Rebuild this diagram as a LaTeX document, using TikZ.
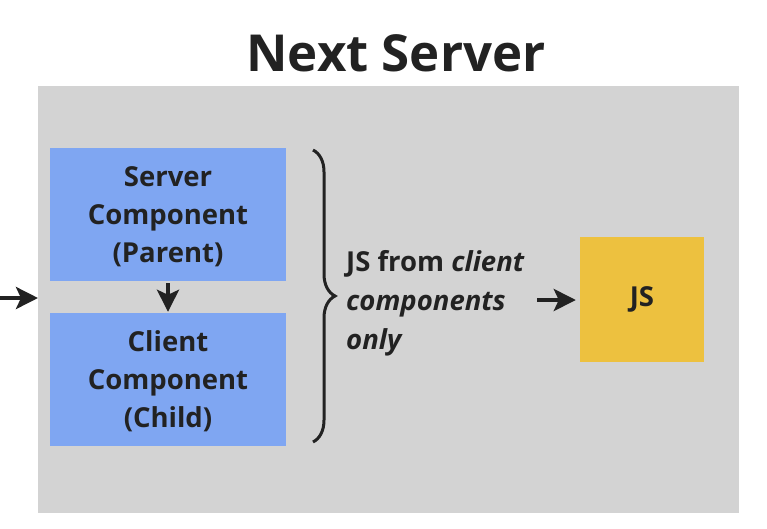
\documentclass[tikz,border=0pt]{standalone}
\usepackage{fontspec}
\setmainfont{Open Sans}
\usepackage{tikz}
\usetikzlibrary{arrows.meta, positioning, decorations.pathreplacing}
\definecolor{bggray}{RGB}{211, 211, 211}
\definecolor{compblue}{RGB}{127, 166, 242}
\definecolor{jsyellow}{RGB}{237, 193, 63}
\definecolor{inkdark}{RGB}{34, 34, 34}

\begin{document}
\begin{tikzpicture}[x=1pt, y=-1pt,
    compbox/.style={fill=compblue, minimum width=236pt, minimum height=133pt, inner sep=0pt, align=center,
      text depth=0pt, font=\fontsize{27.5}{38}\selectfont\bfseries, text=inkdark},
    flowarrow/.style={draw=inkdark, line width=4pt, -{Stealth[length=22pt, width=22pt, inset=5pt]}}]
  \useasboundingbox (0,0) rectangle (767,528);

  % Title
  \node[anchor=base, font=\fontsize{51}{60}\selectfont\bfseries, text=inkdark] (title) at (396, 71) {Next Server};

  % Server area
  \node[fill=bggray, minimum width=701pt, minimum height=427pt, inner sep=0pt, anchor=north west] (server) at (38, 86) {};

  % Components
  \node[compbox] (parent) at (168, 214.5) {Server\\Component\\(Parent)};
  \node[compbox] (child) at (168, 379.5) {Client\\Component\\(Child)};

  % Brace and label
  \coordinate (bracetop) at (313, 150);
  \coordinate (bracebot) at (313, 442);
  \draw[draw=inkdark, line width=3pt, decorate, decoration={brace, amplitude=22pt}] (bracetop) -- (bracebot);
  \node[anchor=west, align=left, inner sep=0pt, font=\fontsize{27.5}{39}\selectfont\bfseries, text=inkdark] (jsinfo) at (346, 303) {
    JS from \textit{client}\\
    \textit{components}\\
    \textit{only}};

  % JS bundle
  \node[fill=jsyellow, minimum width=124pt, minimum height=125pt, inner sep=0pt,
    font=\fontsize{27.5}{30}\selectfont\bfseries, text=inkdark] (js) at (642, 299.5) {JS};

  % Arrows
  \coordinate (request) at (0, 298);
  \coordinate (jsstart) at (537, 300);
  \draw[flowarrow] (request) -- (request -| server.west);
  \draw[flowarrow, shorten <=2pt, shorten >=1pt] (parent.south) -- (child.north);
  \draw[flowarrow, shorten >=4pt] (jsstart) -- (jsstart -| js.west);
\end{tikzpicture}
\end{document}
